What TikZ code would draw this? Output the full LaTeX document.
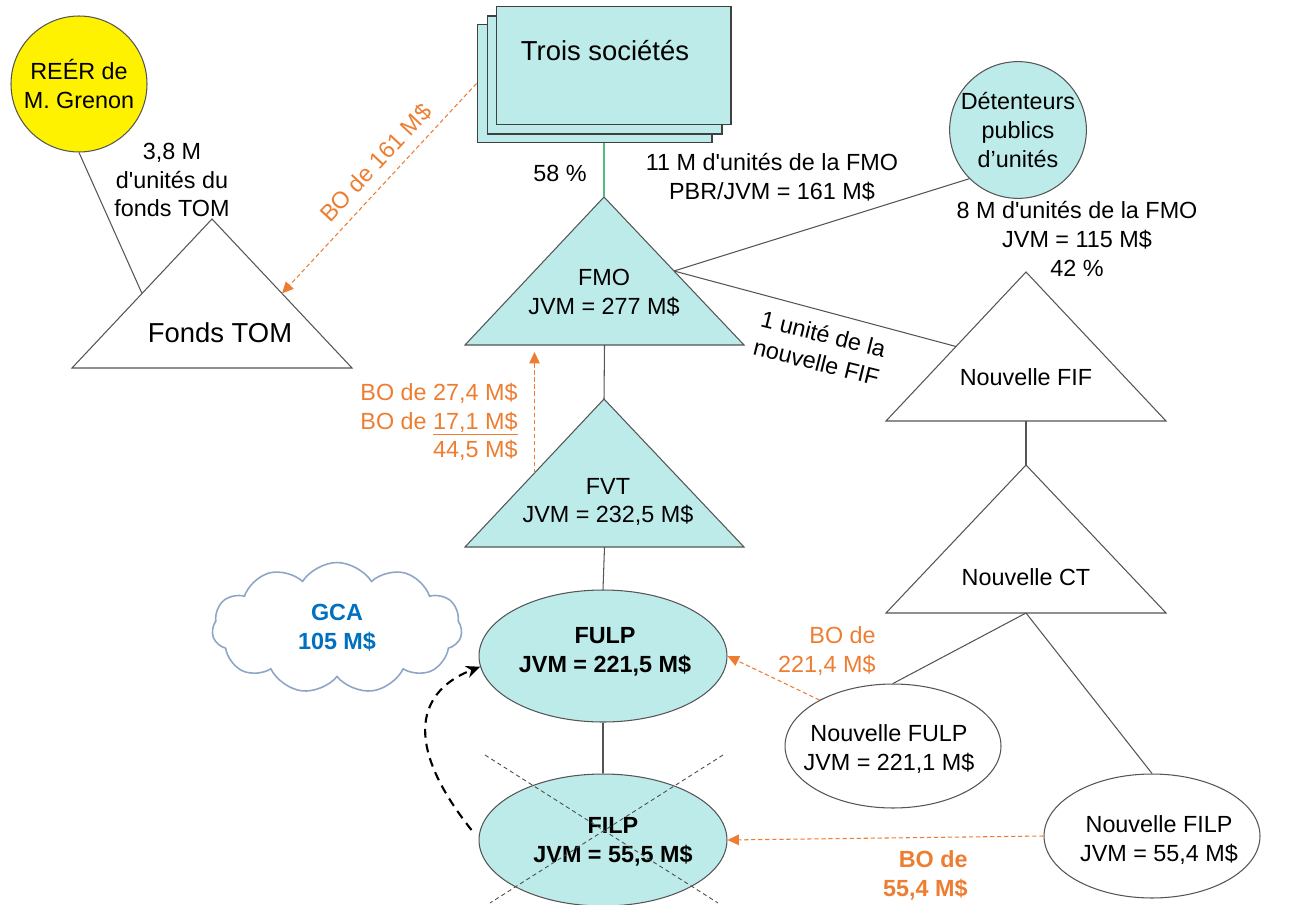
\documentclass[tikz,border=0pt]{standalone}
\usepackage{fontspec}
\setmainfont{Liberation Sans}[Ligatures=TeXOff]
\usetikzlibrary{shapes.geometric,shapes.symbols,arrows.meta,calc}
\definecolor{tealfill}{RGB}{189,235,233}
\definecolor{boorange}{RGB}{237,125,49}
\definecolor{gcablue}{RGB}{0,112,192}
\definecolor{cloudline}{RGB}{143,165,200}
\definecolor{linkgreen}{RGB}{80,190,120}
\definecolor{edgegray}{RGB}{85,85,85}

\begin{document}
\begin{tikzpicture}[x=0.02cm,y=-0.02cm,
  every node/.style={font=\fontsize{13.3}{16.4}\selectfont, inner sep=0pt},
  txt/.style={align=center},
  boldtxt/.style={align=center, font=\bfseries\fontsize{13.3}{16.4}\selectfont},
  bigtxt/.style={font=\fontsize{15.6}{19}\selectfont},
  tri/.style={draw=edgegray, line width=0.6pt},
  link/.style={draw=edgegray, line width=0.6pt},
  boarrow/.style={draw=boorange, line width=0.6pt, dash pattern=on 2.4pt off 1.6pt,
    -{Triangle[length=6.5pt,width=6pt]}},
  botext/.style={text=boorange},
  oval/.style={ellipse, draw=edgegray, line width=0.6pt, align=center},
  roundbox/.style={circle, draw=edgegray, line width=0.6pt, minimum size=2.72cm, align=center},
  socbox/.style={rectangle, draw=black!75, fill=tealfill, line width=0.6pt,
    minimum width=4.7cm, minimum height=2.36cm},
  crossline/.style={draw=black!70, line width=0.5pt, dash pattern=on 2.4pt off 1.8pt},
  gcaarrow/.style={draw=black, line width=1.2pt, dash pattern=on 5pt off 3.5pt,
    -{Stealth[length=8pt,width=7pt]}}
]
\useasboundingbox (0,0) rectangle (1297,905);

% ---------- triangles (funds and trusts) ----------
\path[tri, fill=white] (212,219) coordinate (tom-t) -- (72,368) coordinate (tom-l)
  -- (352,368) coordinate (tom-r) -- cycle;
\path[tri, fill=tealfill] (604,197) coordinate (fmo-t) -- (465,345) coordinate (fmo-l)
  -- (744,345) coordinate (fmo-r) -- cycle;
\path[tri, fill=tealfill] (604,399) coordinate (fvt-t) -- (465,547) coordinate (fvt-l)
  -- (744,547) coordinate (fvt-r) -- cycle;
\path[tri, fill=white] (1026,272) coordinate (fif-t) -- (886,421) coordinate (fif-l)
  -- (1166,421) coordinate (fif-r) -- cycle;
\path[tri, fill=white] (1026,465) coordinate (ct-t) -- (886,613) coordinate (ct-l)
  -- (1166,613) coordinate (ct-r) -- cycle;

\coordinate (tom-lm) at ($(tom-t)!0.5!(tom-l)$);
\coordinate (tom-rm) at ($(tom-t)!0.5!(tom-r)$);
\coordinate (fmo-rm) at ($(fmo-t)!0.5!(fmo-r)$);
\coordinate (fmo-b) at ($(fmo-l)!0.5!(fmo-r)$);
\coordinate (fvt-lm) at ($(fvt-t)!0.5!(fvt-l)$);
\coordinate (fvt-b) at ($(fvt-l)!0.5!(fvt-r)$);
\coordinate (fif-lm) at ($(fif-t)!0.5!(fif-l)$);
\coordinate (fif-b) at ($(fif-l)!0.5!(fif-r)$);
\coordinate (ct-b) at ($(ct-l)!0.5!(ct-r)$);

\node[bigtxt] (tom-label) at (220,333) {Fonds TOM};
\node[txt] (fmo-label) at (604,293) {FMO\\JVM = 277 M\$};
\node[txt] (fvt-label) at (608,502) {FVT\\JVM = 232,5 M\$};
\node (fif-label) at (1026,377) {Nouvelle FIF};
\node (ct-label) at (1026,577) {Nouvelle CT};

% ---------- holders ----------
\node[roundbox, fill=yellow] (reer) at (79,84) {REÉR de\\M. Grenon};
\node[roundbox, fill=tealfill] (det) at (1018,130) {Détenteurs\\publics\\d’unités};

\node[socbox] (soc-a) at (594.5,83.5) {};
\node[socbox] (soc-b) at (604.5,75) {};
\node[socbox] (soc-c) at (613.5,65.5) {};
\node[bigtxt] (soc-label) at (605,51) {Trois sociétés};

% ---------- partnerships ----------
\node[oval, fill=tealfill, minimum width=4.96cm, minimum height=2.64cm] (fulp) at (603,656) {};
\node[boldtxt] (fulp-label) at (605,652) {FULP\\JVM = 221,5 M\$};
\node[oval, fill=tealfill, minimum width=4.96cm, minimum height=2.64cm] (filp) at (603,840) {};
\node[boldtxt] (filp-label) at (613,842) {FILP\\JVM = 55,5 M\$};
\node[oval, fill=white, minimum width=4.32cm, minimum height=2.48cm] (nfulp) at (893,746) {};
\node[txt] (nfulp-label) at (889,749) {Nouvelle FULP\\JVM = 221,1 M\$};
\node[oval, fill=white, minimum width=4.32cm, minimum height=2.48cm] (nfilp) at (1152,836) {};
\node[txt] (nfilp-label) at (1159,840) {Nouvelle FILP\\JVM = 55,4 M\$};

\node[cloud, cloud puffs=11, cloud puff arc=115, aspect=1.9, draw=cloudline,
  line width=0.9pt, fill=white, minimum width=5cm, minimum height=2.62cm,
  align=center, text=gcablue, font=\bfseries\fontsize{13.3}{16.4}\selectfont]
  (gca) at (337,628) {GCA\\105 M\$};

% ---------- ownership links ----------
\draw[link] (reer.south) -- (tom-lm);
\draw[draw=linkgreen, line width=0.6pt] (soc-a.south -| fmo-t) -- (fmo-t);
\draw[link] (fmo-rm) -- (det.225);
\draw[link] (fmo-rm) -- (fif-lm);
\draw[link] (fmo-b) -- (fvt-t);
\draw[link] (fvt-b) -- (fulp.north);
\draw[link] (fulp.south) -- (filp.north);
\draw[link] (fif-b) -- (ct-t);
\draw[link] (ct-b) -- (nfulp.north);
\draw[link] (ct-b) -- (nfilp.north);

% ---------- link labels ----------
\node[txt] (tom-units) at (172,180) {3,8 M\\d'unités du\\fonds TOM};
\node (pct58) at (560,173) {58 \%};
\node[txt] (fmo-units) at (772,177) {11 M d'unités de la FMO\\PBR/JVM = 161 M\$};
\node[txt] (pub-units) at (1077,239) {8 M d'unités de la FMO\\JVM = 115 M\$\\42 \%};
\node[txt, rotate=-14] (fif-unit) at (820,348) {1 unité de la\\nouvelle FIF};

% ---------- transfers (BO) ----------
\draw[boarrow] (soc-a.west) -- (tom-rm);
\node[botext, rotate=47] (bo161) at (376,163) {BO de 161 M\$};

\draw[boarrow, shorten >=4pt] (fvt-lm) -- (fvt-lm |- fmo-l);
\node[botext, align=right, anchor=east] (bo445) at (518,422)
  {BO de 27,4 M\$\\BO de \underline{17,1 M\$}\\44,5 M\$};

\draw[boarrow] (nfulp.148) -- (fulp.east);
\node[botext, align=right, anchor=east] (bo2214) at (876,651) {BO de\\221,4 M\$};

\draw[boarrow] (nfilp.west) -- (filp.east);
\node[botext, align=right, anchor=east, font=\bfseries\fontsize{13.3}{16.4}\selectfont]
  (bo554) at (968,875) {BO de\\55,4 M\$};

% ---------- FILP wound up ----------
\draw[crossline] ($(filp)+(-118,-85)$) -- ($(filp)+(115,63)$);
\draw[crossline] ($(filp)+(120,-85)$) -- ($(filp)+(-113,63)$);

\coordinate (gca-start) at ($(filp.west)+(-7,-10)$);
\draw[gcaarrow] (gca-start) .. controls (400,740) and (420,690) .. (fulp.185);

\end{tikzpicture}
\end{document}
